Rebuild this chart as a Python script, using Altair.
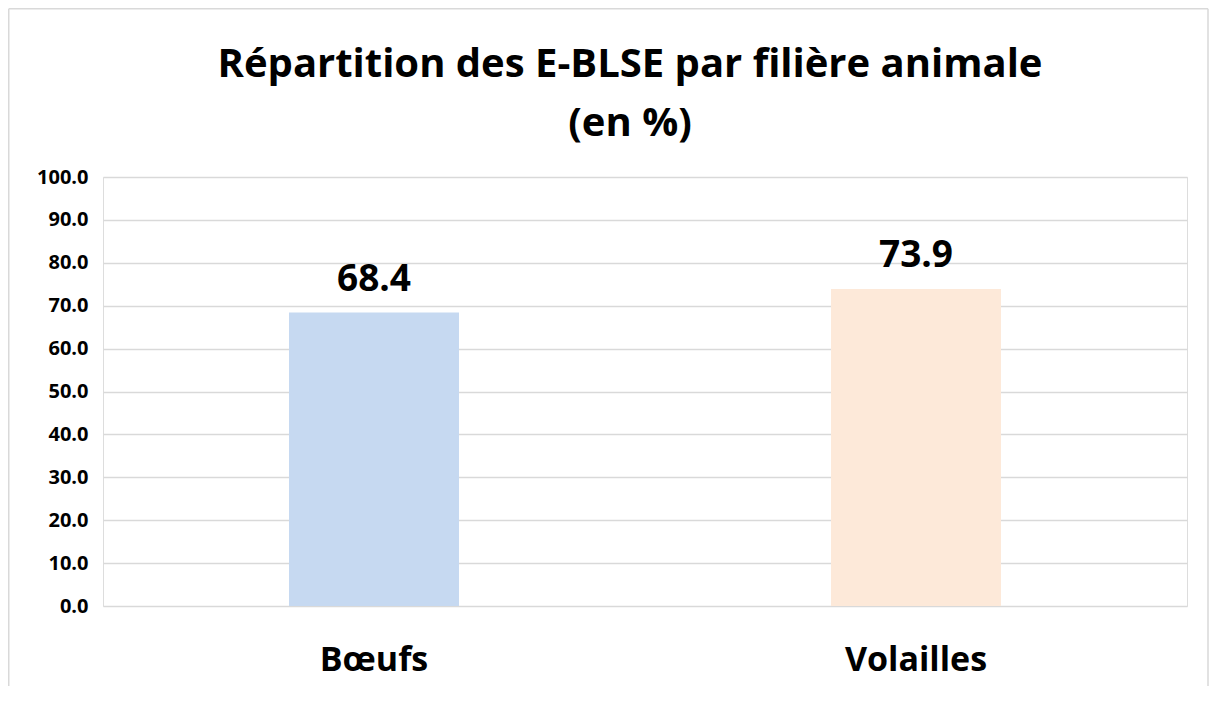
import altair as alt
import pandas as pd

categories = ["Bœufs", "Volailles"]
values = [68.4, 73.9]
colors = ["#c6d9f1", "#fde9d9"]
y_ticks = [0, 10, 20, 30, 40, 50, 60, 70, 80, 90, 100]
title_lines = ["Répartition des E-BLSE par filière animale", "(en %)"]

df = pd.DataFrame({"cat": categories, "value": values})

PLOT_W = 1084
PLOT_H = 429
PAD = {"left": 95, "top": 169, "right": 22, "bottom": 80}
FONT = "Open Sans"
FRAME = "#d9d9d9"

base = alt.Chart(df)

x_enc = alt.X(
    "cat:N",
    sort=categories,
    scale=alt.Scale(paddingInner=0, paddingOuter=0),
    axis=alt.Axis(
        title=None,
        labelAngle=0,
        labelFontSize=34,
        labelFont=FONT,
        labelFontWeight="bold",
        labelColor="black",
        labelPadding=37,
        domain=False,
        ticks=False,
        grid=False,
    ),
)
y_enc = alt.Y(
    "value:Q",
    scale=alt.Scale(domain=[0, 100]),
    axis=alt.Axis(
        title=None,
        values=y_ticks,
        format=".1f",
        labelFontSize=20,
        labelFont=FONT,
        labelFontWeight="bold",
        labelColor="black",
        labelPadding=15,
        domain=False,
        ticks=False,
        grid=True,
        gridColor=FRAME,
        gridWidth=1.5,
    ),
)

bars = base.mark_bar(size=170).encode(
    x=x_enc,
    y=y_enc,
    color=alt.Color("cat:N", scale=alt.Scale(domain=categories, range=colors), legend=None),
)

labels = base.mark_text(
    dy=-22, fontSize=37, fontWeight="bold", font=FONT, color="black", baseline="alphabetic"
).encode(
    x=alt.X("cat:N", sort=categories),
    y=alt.Y("value:Q"),
    text=alt.Text("value:Q", format=".1f"),
)

single = alt.Data(values=[{"k": 1}])

# Title (two lines) drawn as text marks above the plot area
title_x = 527
title_1 = alt.Chart(single).mark_text(
    fontSize=40, fontWeight="bold", font=FONT, color="black", align="center", baseline="alphabetic"
).encode(x=alt.value(title_x), y=alt.value(-100), text=alt.value(title_lines[0]))
title_2 = alt.Chart(single).mark_text(
    fontSize=40, fontWeight="bold", font=FONT, color="black", align="center", baseline="alphabetic"
).encode(x=alt.value(title_x), y=alt.value(-41), text=alt.value(title_lines[1]))

# Chart frame
left_edge = -PAD["left"] + 0.75
top_edge = -PAD["top"] + 0.75
right_edge = PLOT_W + PAD["right"] - 1
bottom_edge = PLOT_H + PAD["bottom"]

frame_left = alt.Chart(single).mark_rule(color=FRAME, strokeWidth=1.5).encode(
    x=alt.value(left_edge), y=alt.value(top_edge), y2=alt.value(bottom_edge)
)
frame_top = alt.Chart(single).mark_rule(color=FRAME, strokeWidth=1.5).encode(
    x=alt.value(left_edge), x2=alt.value(right_edge), y=alt.value(top_edge)
)
frame_right = alt.Chart(single).mark_rule(color=FRAME, strokeWidth=1.5).encode(
    x=alt.value(right_edge), y=alt.value(top_edge), y2=alt.value(bottom_edge)
)

chart = (
    alt.layer(bars, labels, title_1, title_2, frame_left, frame_top, frame_right)
    .properties(
        width=PLOT_W,
        height=PLOT_H,
        autosize=alt.AutoSizeParams(type="none"),
        padding=PAD,
    )
    .configure_view(stroke=None)
    .configure(background="white")
)

chart.save("out.html", embed_options={"renderer": "svg", "actions": False})
